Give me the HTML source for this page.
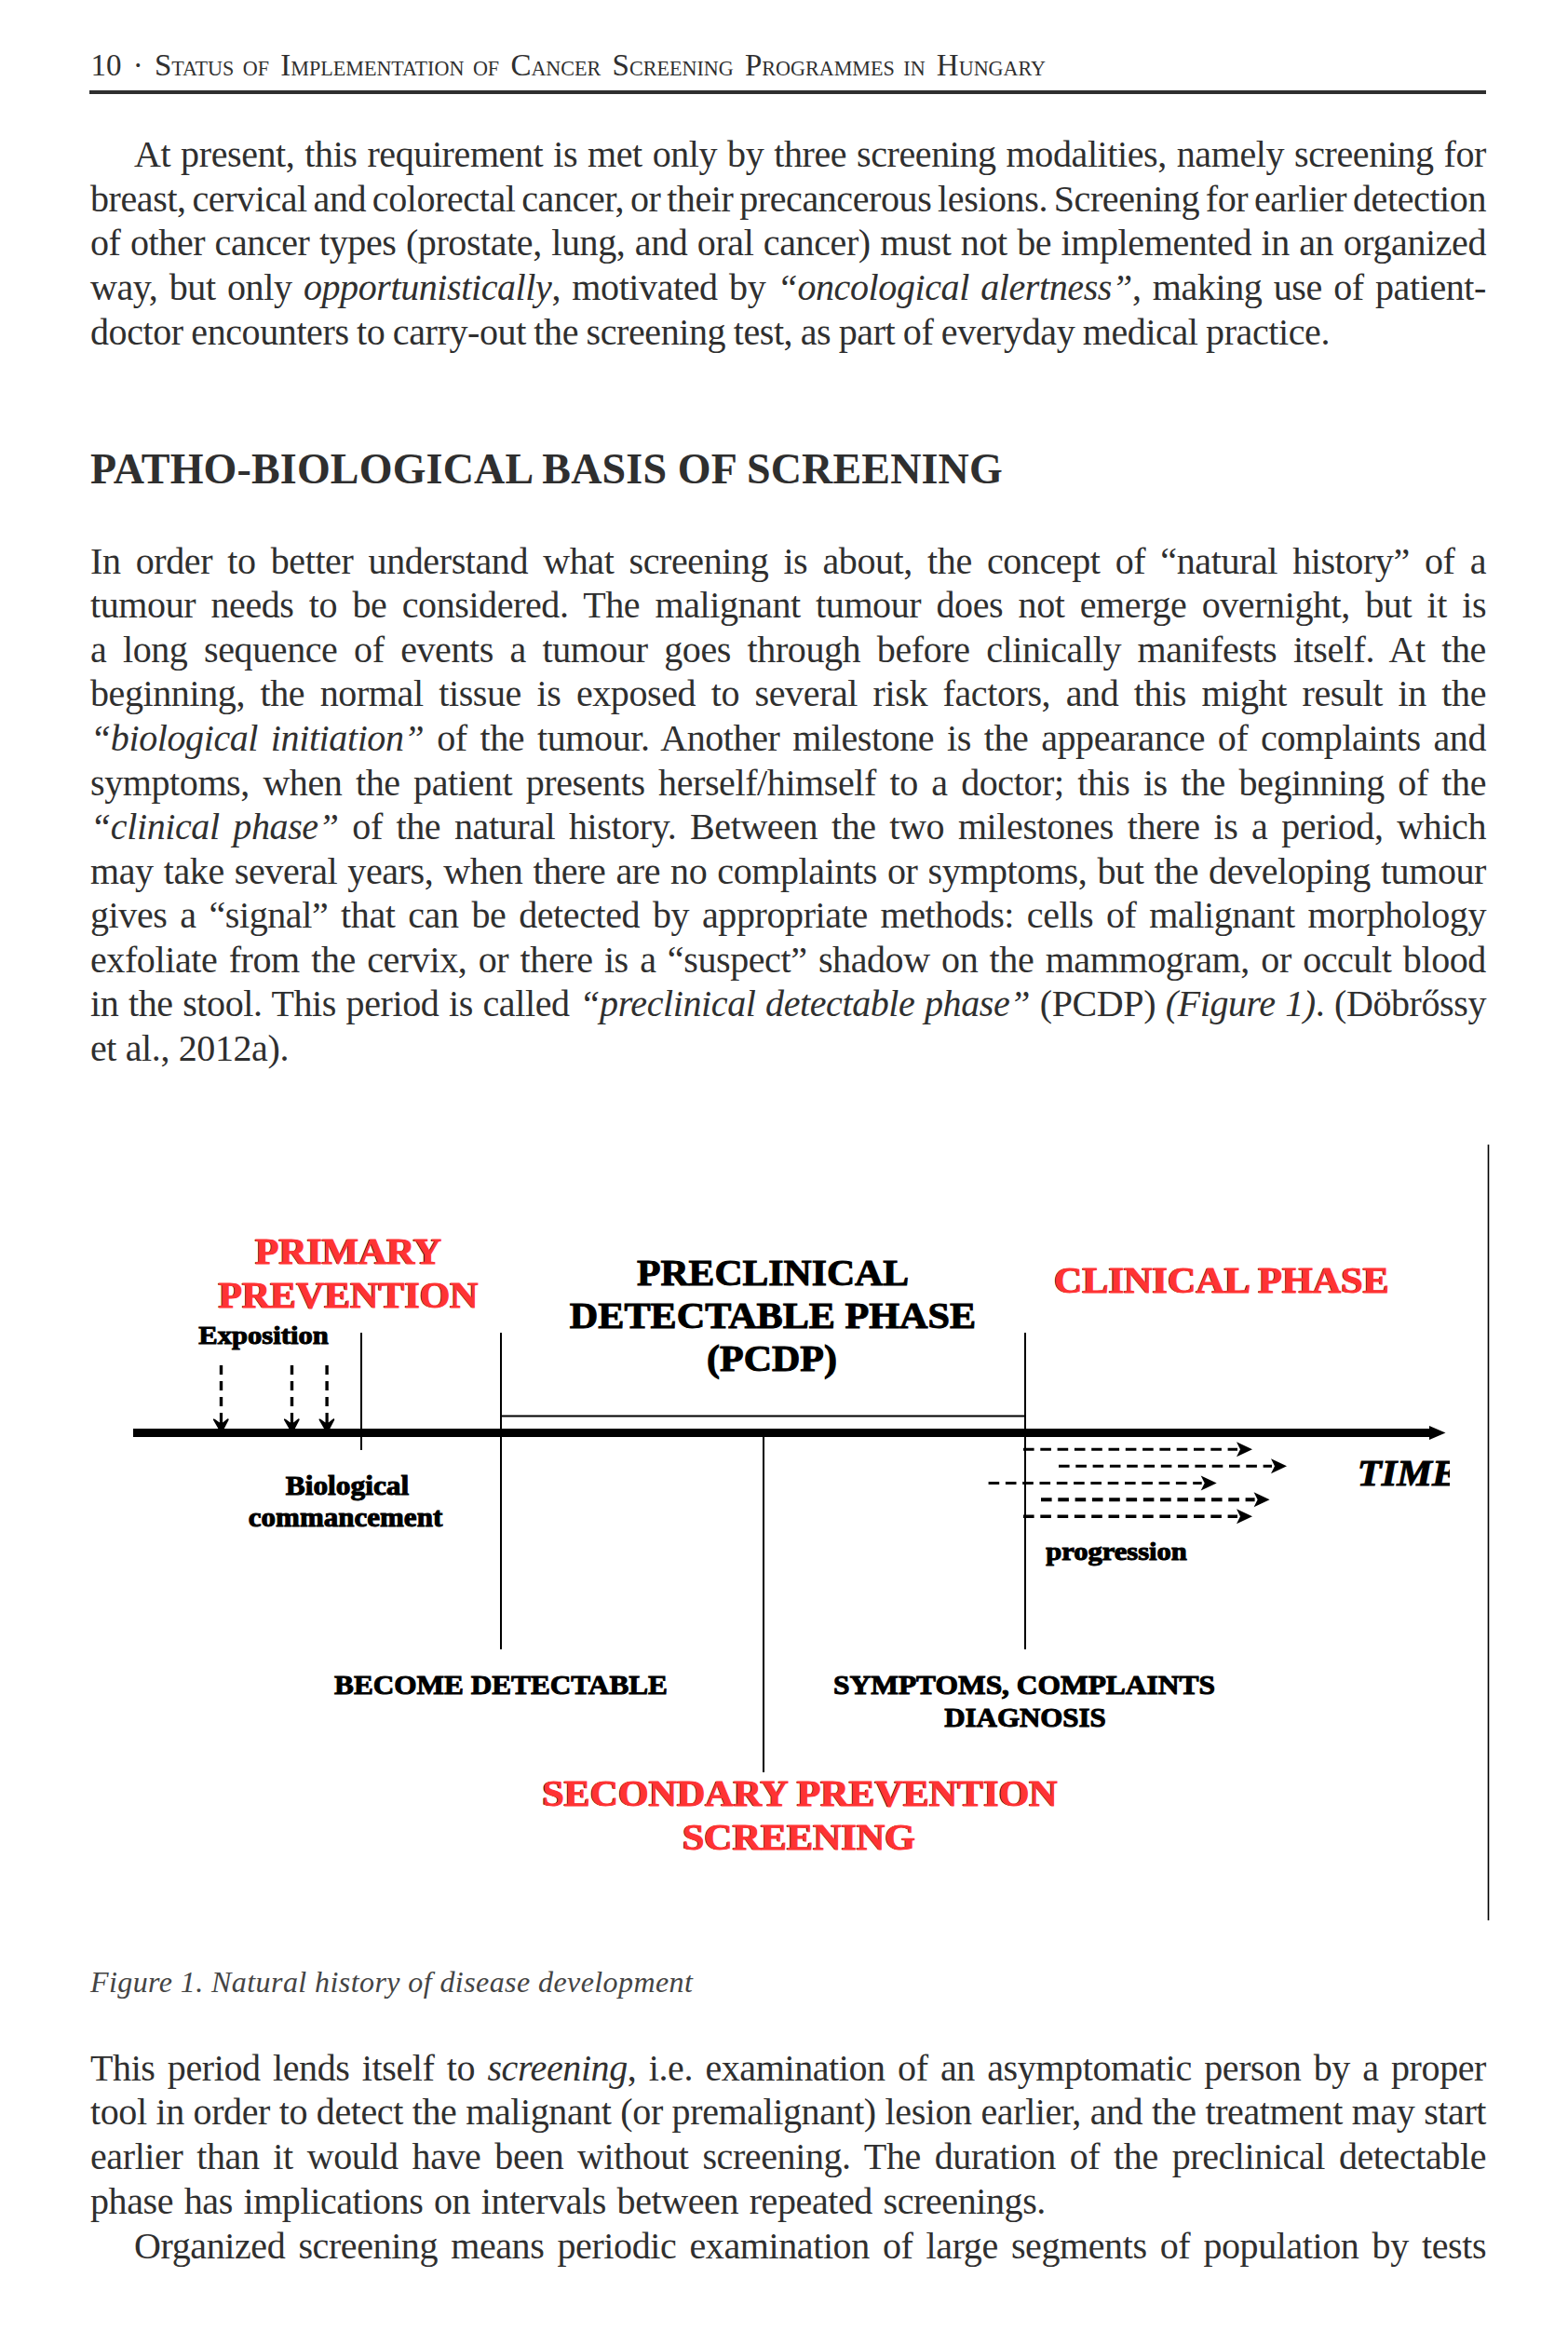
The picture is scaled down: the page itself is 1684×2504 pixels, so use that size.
<!DOCTYPE html>
<html><head><meta charset="utf-8"><title>page</title>
<style>
html,body{margin:0;padding:0;background:#fff;}
body{width:1684px;height:2504px;position:relative;overflow:hidden;font-family:"Liberation Serif",serif;color:#2f2f2f;}
.l{position:absolute;white-space:nowrap;}
.l i{font-style:italic;}
.sc small{font-size:67%;}
.f{position:absolute;font-weight:700;text-align:center;white-space:nowrap;font-family:"Liberation Serif",serif;}
</style></head><body>
<div style="position:absolute;left:96px;top:97px;width:1500px;height:4px;background:#2f2f2f"></div>
<div class="l" style="top:481px;left:97px;font-size:46px;line-height:46px;font-weight:700;letter-spacing:0.16px;">PATHO-BIOLOGICAL BASIS OF SCREENING</div>
<div class="l" style="top:2112px;left:97px;font-size:32px;line-height:32px;font-style:italic;letter-spacing:0.42px;color:#444;">Figure 1. Natural history of disease development</div>
<div class="l" style="top:54px;left:97.5px;font-size:33px;line-height:33px;word-spacing:3.96px;">10 · <span class="sc">S<small>TATUS OF</small> I<small>MPLEMENTATION OF</small> C<small>ANCER</small> S<small>CREENING</small> P<small>ROGRAMMES IN</small> H<small>UNGARY</small></span></div>
<div class="l" style="top:146px;left:144px;font-size:40px;line-height:40px;letter-spacing:-0.4px;word-spacing:1.31px;">At present, this requirement is met only by three screening modalities, namely screening for</div>
<div class="l" style="top:194px;left:97px;font-size:40px;line-height:40px;letter-spacing:-0.4px;word-spacing:-2.87px;">breast, cervical and colorectal cancer, or their precancerous lesions. Screening for earlier detection</div>
<div class="l" style="top:241px;left:97px;font-size:40px;line-height:40px;letter-spacing:-0.4px;word-spacing:0.85px;">of other cancer types (prostate, lung, and oral cancer) must not be implemented in an organized</div>
<div class="l" style="top:289px;left:97px;font-size:40px;line-height:40px;letter-spacing:-0.4px;word-spacing:2.73px;">way, but only <i>opportunistically</i>, motivated by <i>“oncological alertness”</i>, making use of patient-</div>
<div class="l" style="top:337px;left:97px;font-size:40px;line-height:40px;letter-spacing:-0.4px;word-spacing:-1.10px;">doctor encounters to carry-out the screening test, as part of everyday medical practice.</div>
<div class="l" style="top:583px;left:97px;font-size:40px;line-height:40px;letter-spacing:-0.4px;word-spacing:6.57px;">In order to better understand what screening is about, the concept of “natural history” of a</div>
<div class="l" style="top:630px;left:97px;font-size:40px;line-height:40px;letter-spacing:-0.4px;word-spacing:6.70px;">tumour needs to be considered. The malignant tumour does not emerge overnight, but it is</div>
<div class="l" style="top:678px;left:97px;font-size:40px;line-height:40px;letter-spacing:-0.4px;word-spacing:8.00px;">a long sequence of events a tumour goes through before clinically manifests itself. At the</div>
<div class="l" style="top:725px;left:97px;font-size:40px;line-height:40px;letter-spacing:-0.4px;word-spacing:6.95px;">beginning, the normal tissue is exposed to several risk factors, and this might result in the</div>
<div class="l" style="top:773px;left:97px;font-size:40px;line-height:40px;letter-spacing:-0.4px;word-spacing:4.21px;"><i>“biological initiation”</i> of the tumour. Another milestone is the appearance of complaints and</div>
<div class="l" style="top:821px;left:97px;font-size:40px;line-height:40px;letter-spacing:-0.4px;word-spacing:4.91px;">symptoms, when the patient presents herself/himself to a doctor; this is the beginning of the</div>
<div class="l" style="top:868px;left:97px;font-size:40px;line-height:40px;letter-spacing:-0.4px;word-spacing:5.15px;"><i>“clinical phase”</i> of the natural history. Between the two milestones there is a period, which</div>
<div class="l" style="top:916px;left:97px;font-size:40px;line-height:40px;letter-spacing:-0.4px;word-spacing:1.45px;">may take several years, when there are no complaints or symptoms, but the developing tumour</div>
<div class="l" style="top:963px;left:97px;font-size:40px;line-height:40px;letter-spacing:-0.4px;word-spacing:4.21px;">gives a “signal” that can be detected by appropriate methods: cells of malignant morphology</div>
<div class="l" style="top:1011px;left:97px;font-size:40px;line-height:40px;letter-spacing:-0.4px;word-spacing:2.76px;">exfoliate from the cervix, or there is a “suspect” shadow on the mammogram, or occult blood</div>
<div class="l" style="top:1058px;left:97px;font-size:40px;line-height:40px;letter-spacing:-0.4px;word-spacing:1.01px;">in the stool. This period is called <i>“preclinical detectable phase”</i> (PCDP) <i>(Figure 1)</i>. (Döbrőssy</div>
<div class="l" style="top:1106px;left:97px;font-size:40px;line-height:40px;letter-spacing:-0.4px;word-spacing:0.09px;">et al., 2012a).</div>
<div class="l" style="top:2201px;left:97px;font-size:40px;line-height:40px;letter-spacing:-0.4px;word-spacing:3.75px;">This period lends itself to <i>screening</i>, i.e. examination of an asymptomatic person by a proper</div>
<div class="l" style="top:2248px;left:97px;font-size:40px;line-height:40px;letter-spacing:-0.4px;word-spacing:0.20px;">tool in order to detect the malignant (or premalignant) lesion earlier, and the treatment may start</div>
<div class="l" style="top:2296px;left:97px;font-size:40px;line-height:40px;letter-spacing:-0.4px;word-spacing:5.28px;">earlier than it would have been without screening. The duration of the preclinical detectable</div>
<div class="l" style="top:2344px;left:97px;font-size:40px;line-height:40px;letter-spacing:-0.4px;word-spacing:2.02px;">phase has implications on intervals between repeated screenings.</div>
<div class="l" style="top:2392px;left:144px;font-size:40px;line-height:40px;letter-spacing:-0.4px;word-spacing:4.53px;">Organized screening means periodic examination of large segments of population by tests</div>
<div class="f" style="top:1324px;left:-126.45px;width:1000px;font-size:40px;line-height:40px;color:#ff3333;-webkit-text-stroke:1.0px #ff3333;transform:scaleX(1.0422);text-shadow:-1px 0 0 #000;">PRIMARY</div>
<div class="f" style="top:1371px;left:-126.45px;width:1000px;font-size:40px;line-height:40px;color:#ff3333;-webkit-text-stroke:1.0px #ff3333;transform:scaleX(1.0462);text-shadow:-1px 0 0 #000;">PREVENTION</div>
<div class="f" style="top:1421px;left:-216.75px;width:1000px;font-size:27px;line-height:27px;color:#000;-webkit-text-stroke:1.0px #000;transform:scaleX(1.1331);">Exposition</div>
<div class="f" style="top:1347px;left:329.78px;width:1000px;font-size:39px;line-height:39px;color:#000;-webkit-text-stroke:1.0px #000;transform:scaleX(1.0697);">PRECLINICAL</div>
<div class="f" style="top:1393px;left:329.83px;width:1000px;font-size:39px;line-height:39px;color:#000;-webkit-text-stroke:1.0px #000;transform:scaleX(1.0813);">DETECTABLE PHASE</div>
<div class="f" style="top:1439px;left:328.75px;width:1000px;font-size:39px;line-height:39px;color:#000;-webkit-text-stroke:1.0px #000;transform:scaleX(1.0758);">(PCDP)</div>
<div class="f" style="top:1355px;left:812.15px;width:1000px;font-size:40px;line-height:40px;color:#ff3333;-webkit-text-stroke:1.0px #ff3333;transform:scaleX(1.0547);text-shadow:-1px 0 0 #000;">CLINICAL PHASE</div>
<div class="f" style="top:1581px;left:-127.40px;width:1000px;font-size:29px;line-height:29px;color:#000;-webkit-text-stroke:1.0px #000;transform:scaleX(1.082);">Biological</div>
<div class="f" style="top:1615px;left:-129.03px;width:1000px;font-size:29px;line-height:29px;color:#000;-webkit-text-stroke:1.0px #000;transform:scaleX(1.0697);">commancement</div>
<div class="f" style="top:1653px;left:698.75px;width:1000px;font-size:27px;line-height:27px;color:#000;-webkit-text-stroke:1.0px #000;transform:scaleX(1.1321);">progression</div>
<div class="f" style="top:1794px;left:37.57px;width:1000px;font-size:30px;line-height:30px;color:#000;-webkit-text-stroke:1.0px #000;transform:scaleX(1.0411);">BECOME DETECTABLE</div>
<div class="f" style="top:1795px;left:600.40px;width:1000px;font-size:29px;line-height:29px;color:#000;-webkit-text-stroke:1.0px #000;transform:scaleX(1.084);">SYMPTOMS, COMPLAINTS</div>
<div class="f" style="top:1830px;left:600.70px;width:1000px;font-size:29px;line-height:29px;color:#000;-webkit-text-stroke:1.0px #000;transform:scaleX(1.0667);">DIAGNOSIS</div>
<div class="f" style="top:1906px;left:358.95px;width:1000px;font-size:40px;line-height:40px;color:#ff3333;-webkit-text-stroke:1.0px #ff3333;transform:scaleX(1.0494);text-shadow:-1px 0 0 #000;">SECONDARY PREVENTION</div>
<div class="f" style="top:1953px;left:358.32px;width:1000px;font-size:40px;line-height:40px;color:#ff3333;-webkit-text-stroke:1.0px #ff3333;transform:scaleX(1.0515);text-shadow:-1px 0 0 #000;">SCREENING</div>
<svg style="position:absolute;left:0;top:0" width="1684" height="2504"><line x1="143" y1="1538.5" x2="1536" y2="1538.5" stroke="#000" stroke-width="9"/><polygon points="1535,1531 1552.5,1538.5 1535,1546" fill="#000"/><line x1="388" y1="1431" x2="388" y2="1557" stroke="#000" stroke-width="2"/><line x1="538" y1="1431" x2="538" y2="1771" stroke="#000" stroke-width="2"/><line x1="820" y1="1543" x2="820" y2="1903" stroke="#000" stroke-width="2"/><line x1="1101" y1="1431" x2="1101" y2="1771" stroke="#000" stroke-width="2"/><line x1="538" y1="1520.5" x2="1101" y2="1520.5" stroke="#000" stroke-width="2"/><line x1="1598.5" y1="1229" x2="1598.5" y2="2062" stroke="#000" stroke-width="1.6"/><line x1="237.5" y1="1466" x2="237.5" y2="1511" stroke="#000" stroke-width="3.4" stroke-dasharray="10,7"/><polygon points="229.3,1523.2 231.0,1524.0 235.5,1527.2 235.9,1527.2 235.9,1517.0 239.1,1517.0 239.1,1527.2 239.5,1527.2 243.5,1524.0 245.1,1523.0 245.7,1524.6 240.5,1534.5 234.7,1534.5 228.9,1524.6" fill="#000"/><line x1="313.5" y1="1466" x2="313.5" y2="1511" stroke="#000" stroke-width="3.4" stroke-dasharray="10,7"/><polygon points="305.3,1523.2 307.0,1524.0 311.5,1527.2 311.9,1527.2 311.9,1517.0 315.1,1517.0 315.1,1527.2 315.5,1527.2 319.5,1524.0 321.1,1523.0 321.7,1524.6 316.5,1534.5 310.7,1534.5 304.9,1524.6" fill="#000"/><line x1="351.1" y1="1466" x2="351.1" y2="1511" stroke="#000" stroke-width="3.4" stroke-dasharray="10,7"/><polygon points="342.9,1523.2 344.6,1524.0 349.1,1527.2 349.5,1527.2 349.5,1517.0 352.7,1517.0 352.7,1527.2 353.1,1527.2 357.1,1524.0 358.7,1523.0 359.3,1524.6 354.1,1534.5 348.3,1534.5 342.5,1524.6" fill="#000"/><line x1="1099" y1="1556.2" x2="1329" y2="1556.2" stroke="#000" stroke-width="3" stroke-dasharray="11.6,6.7"/><polygon points="1328,1548.2 1345,1556.2 1328,1564.2 1332,1556.2" fill="#000"/><line x1="1137" y1="1574.2" x2="1366" y2="1574.2" stroke="#000" stroke-width="3" stroke-dasharray="11.6,6.7"/><polygon points="1365,1566.2 1382,1574.2 1365,1582.2 1369,1574.2" fill="#000"/><line x1="1061.6" y1="1592.5" x2="1290.7" y2="1592.5" stroke="#000" stroke-width="3" stroke-dasharray="11.6,6.7"/><polygon points="1289.7,1584.5 1306.7,1592.5 1289.7,1600.5 1293.7,1592.5" fill="#000"/><line x1="1118" y1="1610.2" x2="1347.6" y2="1610.2" stroke="#000" stroke-width="4" stroke-dasharray="11.6,6.7"/><polygon points="1346.6,1602.2 1363.6,1610.2 1346.6,1618.2 1350.6,1610.2" fill="#000"/><line x1="1099" y1="1628.3" x2="1329" y2="1628.3" stroke="#000" stroke-width="3.5" stroke-dasharray="11.6,6.7"/><polygon points="1328,1620.3 1345,1628.3 1328,1636.3 1332,1628.3" fill="#000"/></svg>
<div style="position:absolute;left:1400px;top:1540px;width:157px;height:80px;overflow:hidden"><div class="f" style="top:22px;left:-388.06px;width:1000px;font-size:40px;line-height:40px;font-style:italic;color:#000;-webkit-text-stroke:1.0px #000;transform:scaleX(1.0612);">TIME</div></div>
</body></html>
